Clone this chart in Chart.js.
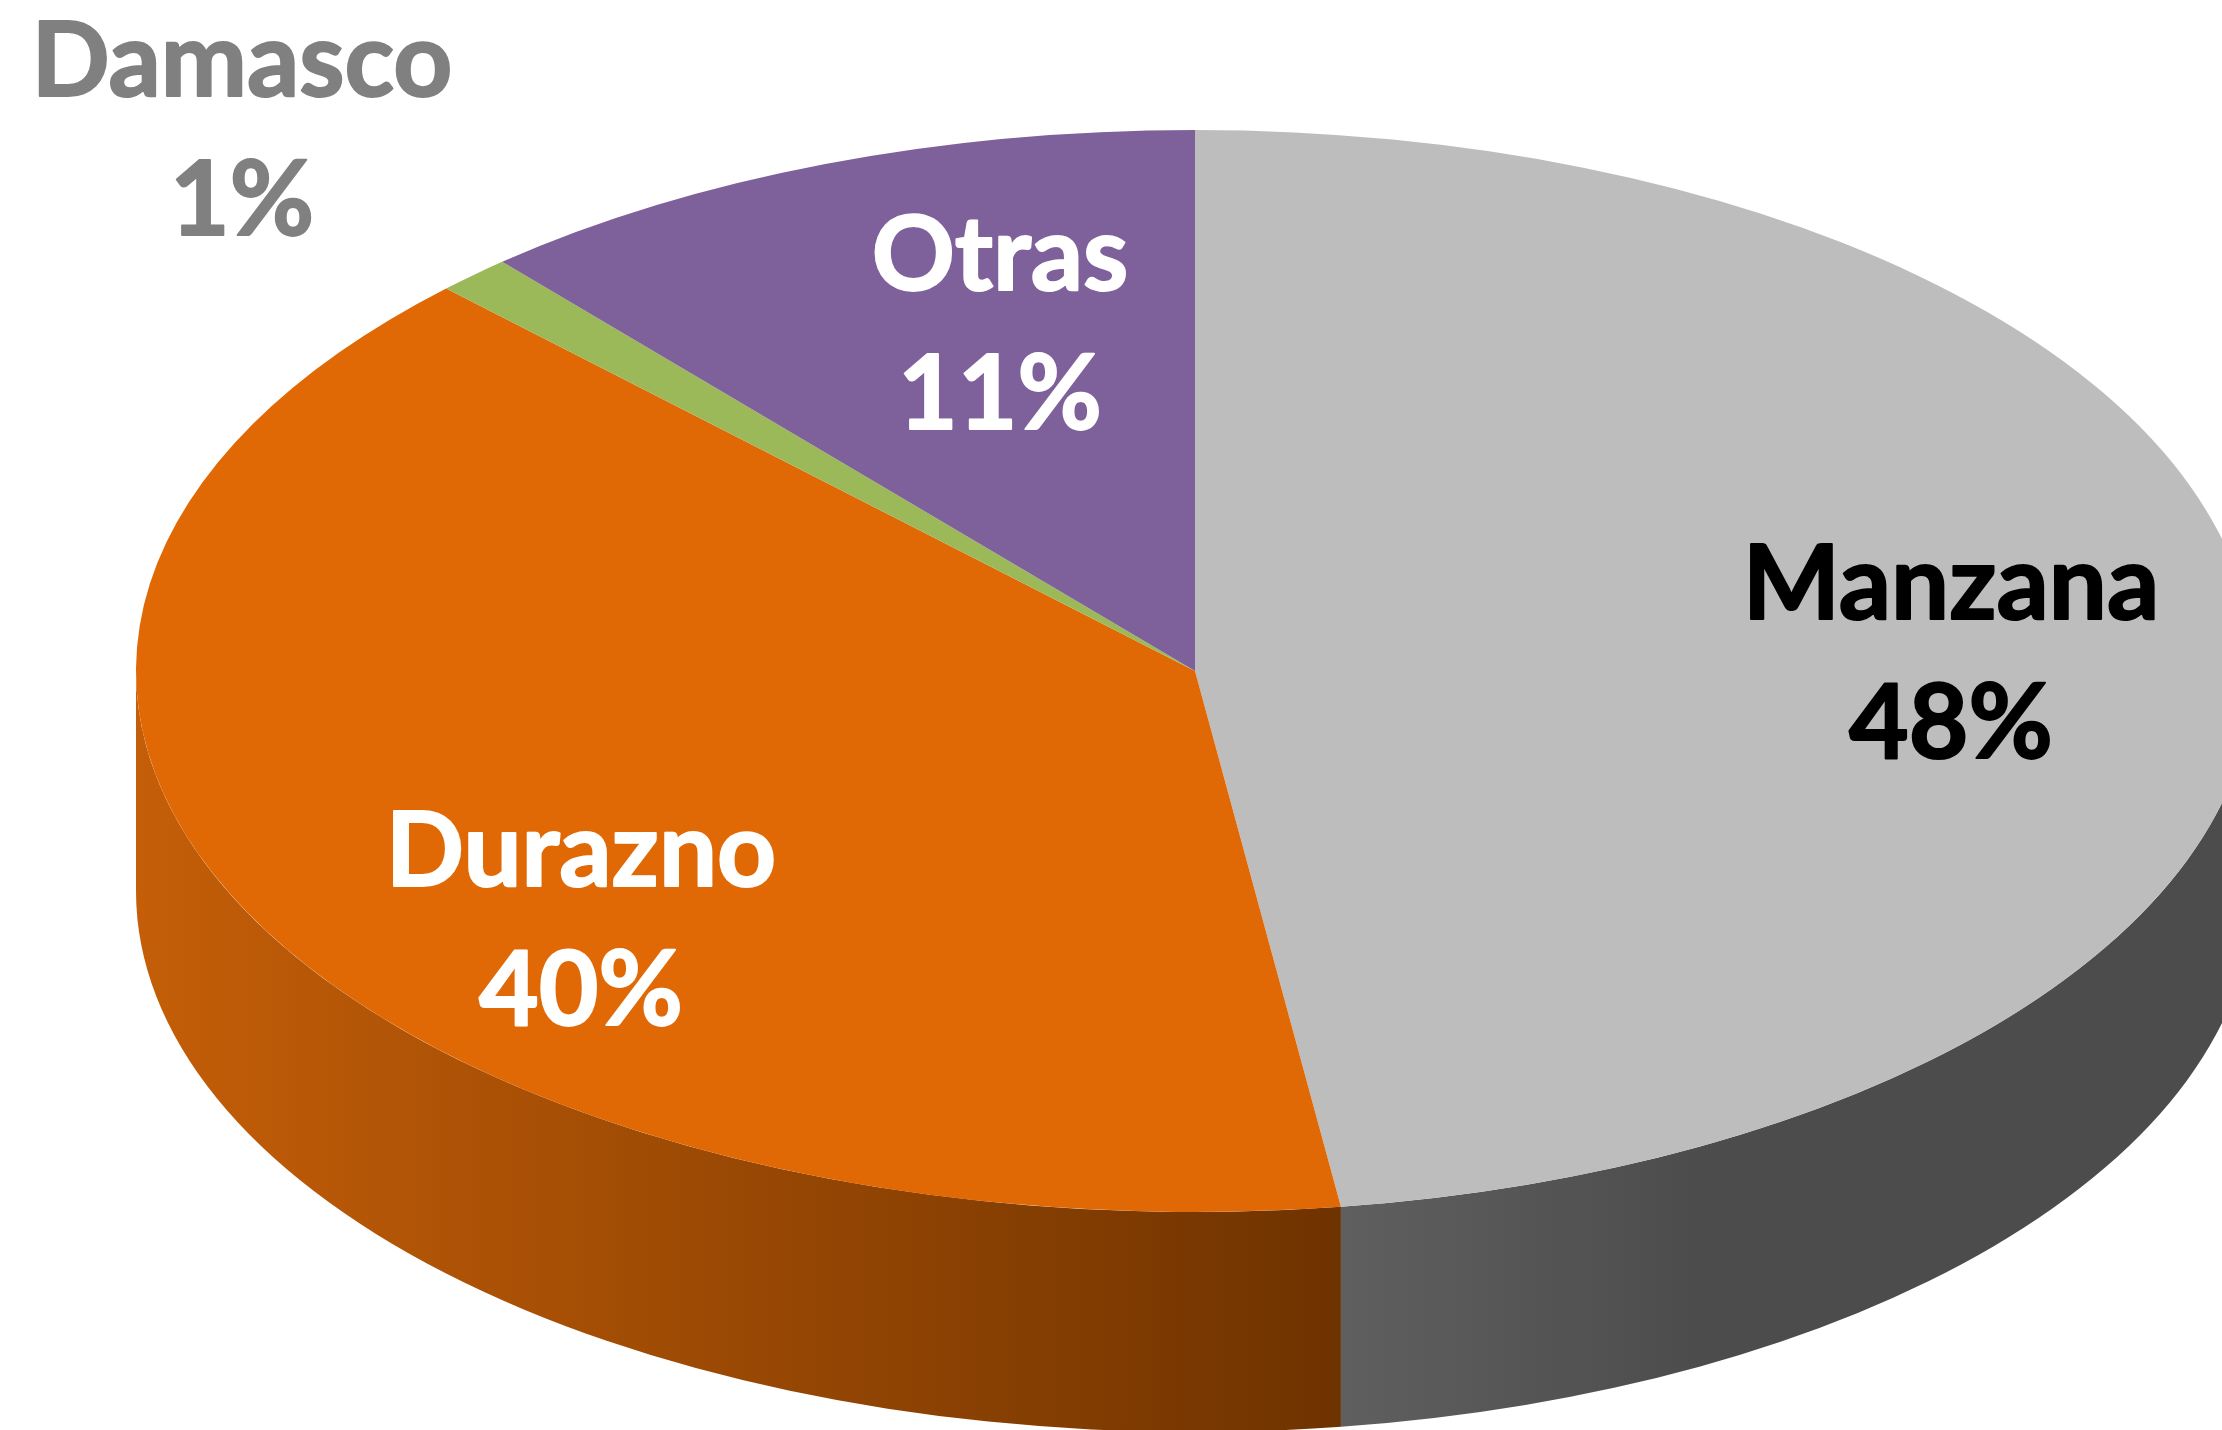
<!DOCTYPE html>
<html>
<head>
<meta charset="utf-8">
<style>
html,body{margin:0;padding:0;background:#fff;overflow:hidden}
#wrap{position:relative;width:2222px;height:1430px}
canvas{display:block}
</style>
<script src="https://cdn.jsdelivr.net/npm/chart.js@4"></script>
</head>
<body>
<div id="wrap"><canvas id="c" width="2222" height="1430"></canvas></div>
<script>
// Data
const categories = ["Manzana", "Durazno", "Damasco", "Otras"];
const sliceValues = [47.8, 39.7, 1.15, 11.35];
const sliceLabels = ["48%", "40%", "1%", "11%"];

// Styles
const topColors = ["#BDBDBD", "#E06906", "#9BB959", "#7E609A"];
const textColors = ["#000000", "#FFFFFF", "#808080", "#FFFFFF"];
const wallStops = [
  [[0, "#4C4C4C"], [0.6, "#4C4C4C"], [1, "#5F5F5F"]],
  [[0, "#6F3300"], [1, "#C45E08"]]
];

// Page layout of the tilted pie
const pie = { cx: 1195, cy: 671, rx: 1059, ry: 541, depth: 220 };
const labelFont = '700 103px Lato';
const labelStroke = 2;
const lineGap = 139;
const labelCenters = [[1951, 619], [581, 886], [242, 96], [1000, 290]];

function applyTilt(ctx, arc) {
  const r = arc.outerRadius;
  ctx.translate(pie.cx, pie.cy);
  ctx.scale(pie.rx / r, pie.ry / r);
  ctx.translate(-arc.x, -arc.y);
}

const tiltPlugin = {
  id: 'tilt',
  beforeDatasetsDraw(chart) {
    const ctx = chart.ctx;
    const arcs = chart.getDatasetMeta(0).data;
    const first = arcs[0];
    ctx.save();
    applyTilt(ctx, first);
    // side wall: only the front half of each slice is visible
    const dr = pie.depth * first.outerRadius / pie.ry;
    arcs.forEach((arc, i) => {
      const a0 = Math.max(arc.startAngle, 0);
      const a1 = Math.min(arc.endAngle, Math.PI);
      if (a1 <= a0) return;
      const x1 = arc.x + arc.outerRadius * Math.cos(a0);
      const x0 = arc.x + arc.outerRadius * Math.cos(a1);
      const g = ctx.createLinearGradient(x1, 0, x0, 0);
      (wallStops[i] || []).forEach(s => g.addColorStop(s[0], s[1]));
      ctx.fillStyle = g;
      ctx.beginPath();
      ctx.arc(arc.x, arc.y, arc.outerRadius, a0, a1);
      ctx.arc(arc.x, arc.y + dr, arc.outerRadius, a1, a0, true);
      ctx.closePath();
      ctx.fill();
    });
  },
  afterDatasetsDraw(chart) {
    chart.ctx.restore();
  },
  afterDraw(chart) {
    const ctx = chart.ctx;
    ctx.save();
    ctx.font = labelFont;
    ctx.textAlign = 'center';
    ctx.textBaseline = 'alphabetic';
    ctx.lineWidth = labelStroke;
    ctx.lineJoin = 'round';
    categories.forEach((name, i) => {
      const p = labelCenters[i];
      ctx.fillStyle = textColors[i];
      ctx.strokeStyle = textColors[i];
      [[name, p[1]], [sliceLabels[i], p[1] + lineGap]].forEach(t => {
        ctx.strokeText(t[0], p[0], t[1]);
        ctx.fillText(t[0], p[0], t[1]);
      });
    });
    ctx.restore();
  }
};

new Chart(document.getElementById('c'), {
  type: 'pie',
  data: {
    labels: categories,
    datasets: [{
      data: sliceValues,
      backgroundColor: topColors,
      borderWidth: 0,
      clip: false
    }]
  },
  options: {
    responsive: false,
    animation: false,
    layout: { padding: 0 },
    plugins: { legend: { display: false }, tooltip: { enabled: false } }
  },
  plugins: [tiltPlugin]
});
</script>
</body>
</html>
